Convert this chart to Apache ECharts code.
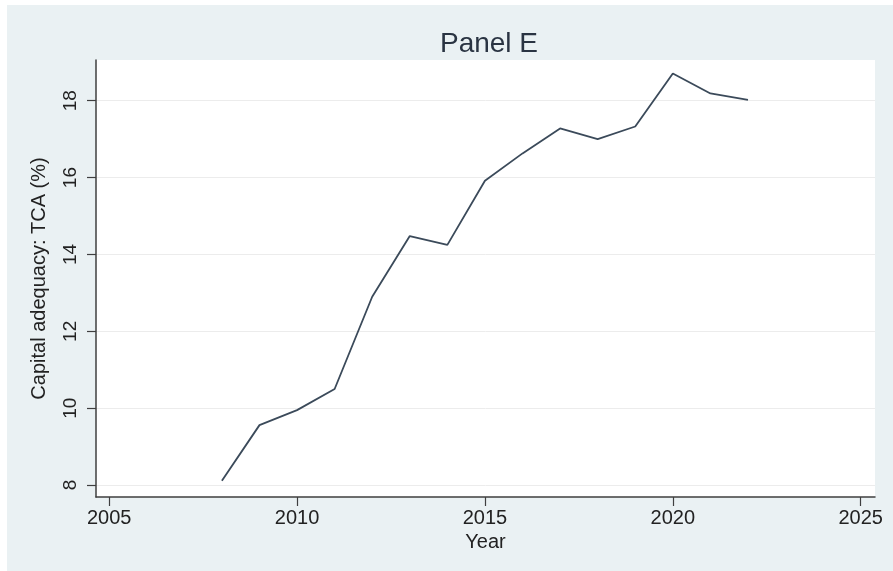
<!DOCTYPE html>
<html>
<head>
<meta charset="utf-8">
<script src="https://cdn.jsdelivr.net/npm/echarts@6/dist/echarts.min.js"></script>
<style>
  html, body { margin: 0; padding: 0; background: #ffffff; }
  #chart { position: absolute; left: 7px; top: 5px; width: 886px; height: 566px; }
</style>
</head>
<body>
<div id="chart"></div>
<script>
// Capital adequacy series, total capital adequacy ratio by year
const years = [2008, 2009, 2010, 2011, 2012, 2013, 2014, 2015, 2016, 2017, 2018, 2019, 2020, 2021, 2022];
const tca = [8.11, 9.56, 9.95, 10.50, 12.90, 14.48, 14.25, 15.92, 16.63, 17.28, 17.00, 17.33, 18.71, 18.19, 18.02];

const xTicks = [2005, 2010, 2015, 2020, 2025];
const yTicks = [8, 10, 12, 14, 16, 18];

const axisColor = '#3f3f3f';
const textColor = '#222222';
const font = '"Liberation Sans", Arial, sans-serif';

const gridLeft = 89, gridRight = 18;

const chart = echarts.init(document.getElementById('chart'));
chart.setOption({
  backgroundColor: '#eaf1f3',
  animation: false,
  title: {
    text: 'Panel E',
    left: 477,
    textAlign: 'center',
    top: 20,
    textStyle: { fontFamily: font, fontSize: 28, fontWeight: 'normal', color: '#2a3442' }
  },
  grid: {
    left: gridLeft, right: gridRight, top: 55, bottom: 74,
    show: true, backgroundColor: '#ffffff', borderWidth: 0
  },
  xAxis: {
    type: 'value',
    min: 2004.65,
    max: 2025.38,
    name: 'Year',
    nameLocation: 'middle',
    nameGap: 35,
    nameTextStyle: { fontFamily: font, fontSize: 20, color: textColor },
    axisLine: { show: true, onZero: false, lineStyle: { color: axisColor, width: 1.5 } },
    axisTick: { show: true, length: 9, customValues: xTicks, lineStyle: { color: axisColor, width: 1.2 } },
    axisLabel: { customValues: xTicks, margin: 11, fontFamily: font, fontSize: 20, color: textColor,
                 formatter: v => String(v) },
    splitLine: { show: false }
  },
  yAxis: {
    type: 'value',
    min: 7.69,
    max: 19.06,
    name: 'Capital adequacy: TCA (%)',
    nameLocation: 'middle',
    nameGap: 47,
    nameRotate: 90,
    nameTextStyle: { fontFamily: font, fontSize: 20, color: textColor },
    axisLine: { show: true, onZero: false, lineStyle: { color: axisColor, width: 1.5 } },
    axisTick: { show: true, length: 9, customValues: yTicks, lineStyle: { color: axisColor, width: 1.2 } },
    axisLabel: { customValues: yTicks, rotate: 90, margin: 16, fontFamily: font, fontSize: 19, color: textColor },
    splitLine: { show: true, lineStyle: { color: '#ececec', width: 1 } }
  },
  series: [{
    type: 'line',
    data: years.map((y, i) => [y, tca[i]]),
    symbol: 'none',
    lineStyle: { color: '#3b4a5a', width: 1.8 }
  }]
});
</script>
</body>
</html>
